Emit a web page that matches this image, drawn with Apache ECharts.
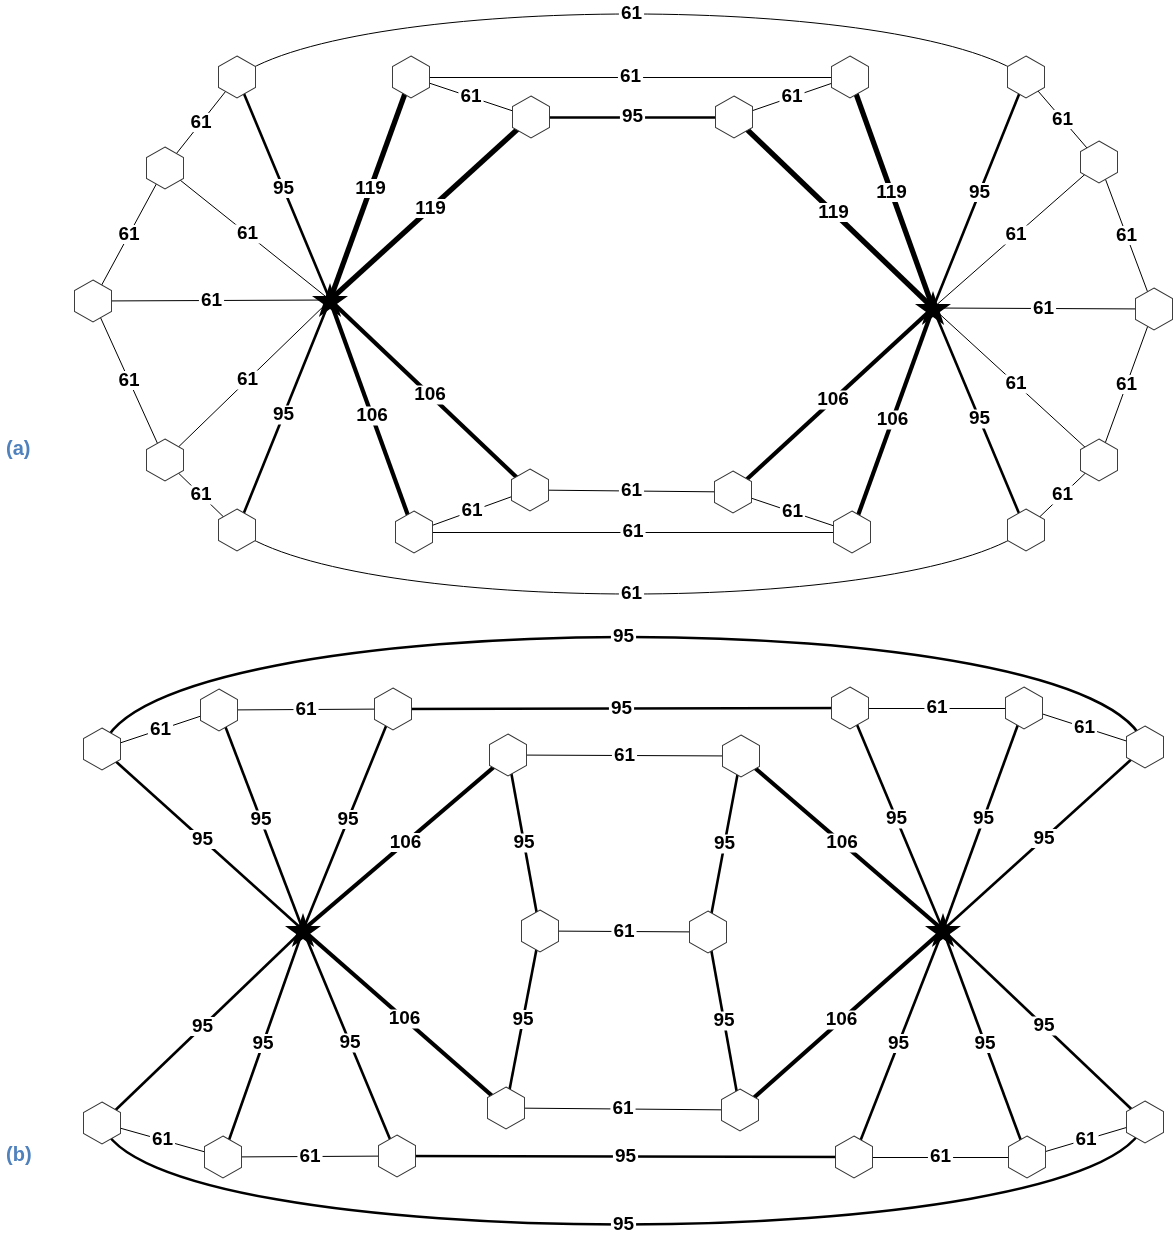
<!DOCTYPE html>
<html>
<head>
<meta charset="utf-8">
<script src="https://cdn.jsdelivr.net/npm/echarts@6/dist/echarts.min.js"></script>
<style>
html,body{margin:0;padding:0;background:#fff;}
#chart{width:1173px;height:1236px;}
</style>
</head>
<body>
<div id="chart"></div>
<script>
// ---- Data ----
const panelLabels = ['(a)', '(b)'];

const nodeNames = [
  'SL_a','SR_a','A1','A2','A3','A4','A5','B1','B2','B3','B4','C1','C2','C3','C4','C5','D1','D2','D3','D4',
  'SL_b','SR_b','E1','E2','E3','E4','E5','E6','F1','F2','F3','G1','G2','G3','G4','G5','G6','H1','H2','H3'
];
const nodeKind = [
  'star','star','hex','hex','hex','hex','hex','hex','hex','hex','hex','hex','hex','hex','hex','hex','hex','hex','hex','hex',
  'star','star','hex','hex','hex','hex','hex','hex','hex','hex','hex','hex','hex','hex','hex','hex','hex','hex','hex','hex'
];
const nodeX = [
  330,933,237,165,93,165,237,411,531,530,414,1026,1099,1154,1099,1026,850,734,733,852,
  303,943,102,219,393,102,223,397,508,540,506,1145,1024,850,1145,1027,854,741,708,740
];
const nodeY = [
  300,308,77,168,301,460,530,77,117,490,532,77,162,309,460,530,77,117,492,532,
  930,930,749,710,709,1123,1157,1156,755,931,1108,747,708,708,1122,1157,1157,756,932,1110
];

const linkSource = [
  // (a) left star
  'SL_a','SL_a','SL_a','SL_a','SL_a','SL_a','SL_a','SL_a','SL_a',
  // (a) right star
  'SR_a','SR_a','SR_a','SR_a','SR_a','SR_a','SR_a','SR_a','SR_a',
  // (a) rims
  'A1','A2','A3','A4','C1','C2','C3','C4',
  'B1','B3','D1','D3','B1','B2','B3','B4',
  // (b) left star
  'SL_b','SL_b','SL_b','SL_b','SL_b','SL_b','SL_b','SL_b',
  // (b) right star
  'SR_b','SR_b','SR_b','SR_b','SR_b','SR_b','SR_b','SR_b',
  // (b) others
  'E1','E2','E3','G3','G2','E4','E5','E6','G6','G5',
  'F1','F2','F3','F1','F2','H1','H2'
];
const linkTarget = [
  'A1','A2','A3','A4','A5','B1','B2','B3','B4',
  'C1','C2','C3','C4','C5','D1','D2','D3','D4',
  'A2','A3','A4','A5','C2','C3','C4','C5',
  'B2','B4','D2','D4','D1','D2','D3','D4',
  'E1','E2','E3','F1','E4','E5','E6','F3',
  'G1','G2','G3','H1','G4','G5','G6','H3',
  'E2','E3','G3','G2','G1','E5','E6','G6','G5','G4',
  'H1','H2','H3','F2','F3','H2','H3'
];
const linkValue = [
  95,61,61,61,95,119,119,106,106,
  95,61,61,61,95,119,119,106,106,
  61,61,61,61,61,61,61,61,
  61,61,61,61,61,95,61,61,
  95,95,95,106,95,95,95,106,
  95,95,95,106,95,95,95,106,
  61,61,95,61,61,61,61,95,61,61,
  61,61,61,95,95,95,95
];

// long curved edges
const arcSource = ['A1','A5','E1','E4'];
const arcTarget = ['C1','C5','G1','G4'];
const arcValue  = [61, 61, 95, 95];

// ---- Styling ----
const widthOf = v => ({61: 1, 95: 2.6, 106: 4.2, 119: 5.2}[v] || 1);
// arc geometry (rise above/below the chord, horizontal handle length)
const arcRise   = [63, -64, 111, -102];
const arcHandle = [120, 120, 40, 40];

const HEX = 'path://M0,-1 L0.866,-0.5 L0.866,0.5 L0,1 L-0.866,0.5 L-0.866,-0.5 Z';
const STAR = 'path://M0,-1 L0.2245,-0.309 L0.951,-0.309 L0.363,0.118 L0.588,0.809 L0,0.382 L-0.588,0.809 L-0.363,0.118 L-0.951,-0.309 L-0.2245,-0.309 Z';
const FONT = '"Liberation Sans", Arial, sans-serif';

const idx = {};
nodeNames.forEach((n, i) => idx[n] = i);

const graphNodes = nodeNames.map((n, i) => {
  const star = nodeKind[i] === 'star';
  return {
    name: n,
    value: [nodeX[i], nodeY[i]],
    symbol: star ? STAR : HEX,
    symbolSize: star ? [36, 34] : [37, 42],
    itemStyle: star ? {color: '#000', borderWidth: 0}
                    : {color: '#fff', borderColor: '#333', borderWidth: 1}
  };
});

const graphLinks = linkSource.map((s, i) => ({
  source: s,
  target: linkTarget[i],
  value: linkValue[i],
  lineStyle: {width: widthOf(linkValue[i]), color: '#000', opacity: 1, curveness: 0}
}));

// straight-edge labels sit at the midpoint of each edge
const edgeLabelData = linkSource.map((s, i) => {
  const a = idx[s], b = idx[linkTarget[i]];
  return [(nodeX[a] + nodeX[b]) / 2, (nodeY[a] + nodeY[b]) / 2, linkValue[i]];
});

const arcData = arcSource.map((s, i) => {
  const a = idx[s], b = idx[arcTarget[i]];
  return [nodeX[a], nodeY[a], nodeX[b], nodeY[b], arcValue[i]];
});

const chart = echarts.init(document.getElementById('chart'), null, {renderer: 'canvas'});
chart.setOption({
  animation: false,
  backgroundColor: '#fff',
  grid: {left: 0, right: 0, top: 0, bottom: 0},
  xAxis: {type: 'value', min: 0, max: 1173, show: false},
  yAxis: {type: 'value', min: 0, max: 1236, inverse: true, show: false},
  graphic: panelLabels.map((t, i) => ({
    type: 'text',
    left: 6,
    top: i === 0 ? 439 : 1145,
    style: {text: t, fill: '#4f81bd', font: 'bold 20px ' + FONT}
  })),
  series: [
    {
      type: 'custom',
      coordinateSystem: 'cartesian2d',
      z: 1,
      data: arcData,
      renderItem: (params, api) => {
        const i = params.dataIndex;
        const p0 = api.coord([api.value(0), api.value(1)]);
        const p3 = api.coord([api.value(2), api.value(3)]);
        const v = api.value(4);
        const k = arcRise[i] * 4 / 3;
        const h = arcHandle[i];
        const cp1 = [p0[0] + h, p0[1] - k];
        const cp2 = [p3[0] - h, p3[1] - k];
        const midX = (p0[0] + 3 * cp1[0] + 3 * cp2[0] + p3[0]) / 8;
        const midY = (p0[1] + 3 * cp1[1] + 3 * cp2[1] + p3[1]) / 8;
        return {
          type: 'group',
          children: [
            {
              type: 'bezierCurve',
              shape: {x1: p0[0], y1: p0[1], x2: p3[0], y2: p3[1],
                      cpx1: cp1[0], cpy1: cp1[1], cpx2: cp2[0], cpy2: cp2[1]},
              style: {stroke: '#000', lineWidth: widthOf(v), fill: null}
            },
            {
              type: 'text',
              x: midX, y: midY,
              z2: 10,
              style: {text: String(v), fill: '#000', font: 'bold 19px ' + FONT,
                      align: 'center', verticalAlign: 'middle',
                      backgroundColor: '#fff', padding: [0, 2]}
            }
          ]
        };
      }
    },
    {
      type: 'graph',
      coordinateSystem: 'cartesian2d',
      layout: 'none',
      z: 2,
      roam: false,
      data: graphNodes,
      links: graphLinks,
      label: {show: false},
      edgeLabel: {show: false},
      emphasis: {disabled: true}
    },
    {
      type: 'scatter',
      z: 5,
      symbolSize: 0,
      silent: true,
      itemStyle: {color: '#fff', opacity: 0},
      data: edgeLabelData,
      label: {
        show: true,
        position: 'inside',
        formatter: p => String(p.value[2]),
        color: '#000',
        fontSize: 19,
        fontWeight: 'bold',
        fontFamily: FONT,
        textBorderWidth: 0,
        textBorderColor: 'transparent',
        opacity: 1,
        backgroundColor: '#fff',
        padding: [0, 2]
      },
      emphasis: {disabled: true}
    }
  ]
});
</script>
</body>
</html>
